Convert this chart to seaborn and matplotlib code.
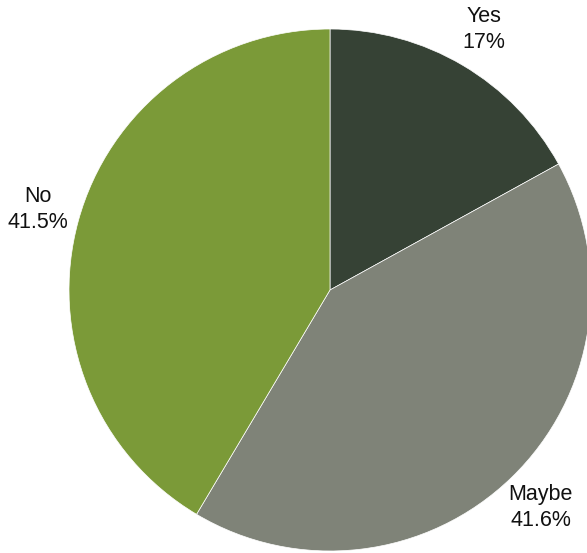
import numpy as np
import matplotlib
matplotlib.use("Agg")
import matplotlib.pyplot as plt
import seaborn as sns

categories = ["Yes", "Maybe", "No"]
shares = [17.0, 41.6, 41.5]
share_labels = ["17%", "41.6%", "41.5%"]
colors = ["#364235", "#7f8378", "#7b9a38"]

sns.set_style("white")
plt.rcParams["font.family"] = ["Liberation Sans", "DejaVu Sans"]
palette = sns.color_palette(colors)

W, H = 587, 553
fig = plt.figure(figsize=(W / 100, H / 100), dpi=100)
ax = fig.add_axes([0, 0, 1, 1])

cx, cy, r = 330, 263, 261
wedges, _ = ax.pie(
    shares,
    colors=palette,
    startangle=90,
    counterclock=False,
    center=(cx, cy),
    radius=r,
    frame=True,
    wedgeprops=dict(edgecolor="white", linewidth=0.5),
)
ax.set_xlim(0, W)
ax.set_ylim(0, H)
ax.set_aspect("equal")
ax.axis("off")

for w, cat, lab in zip(wedges, categories, share_labels):
    mid = np.deg2rad((w.theta1 + w.theta2) / 2)
    d = r * 1.16
    ax.text(cx + d * np.cos(mid), cy + d * np.sin(mid), f"{cat}\n{lab}",
            ha="center", va="center", multialignment="center",
            fontsize=15.5, color="#111111", linespacing=1.3)

fig.savefig("out.png", dpi=100)
